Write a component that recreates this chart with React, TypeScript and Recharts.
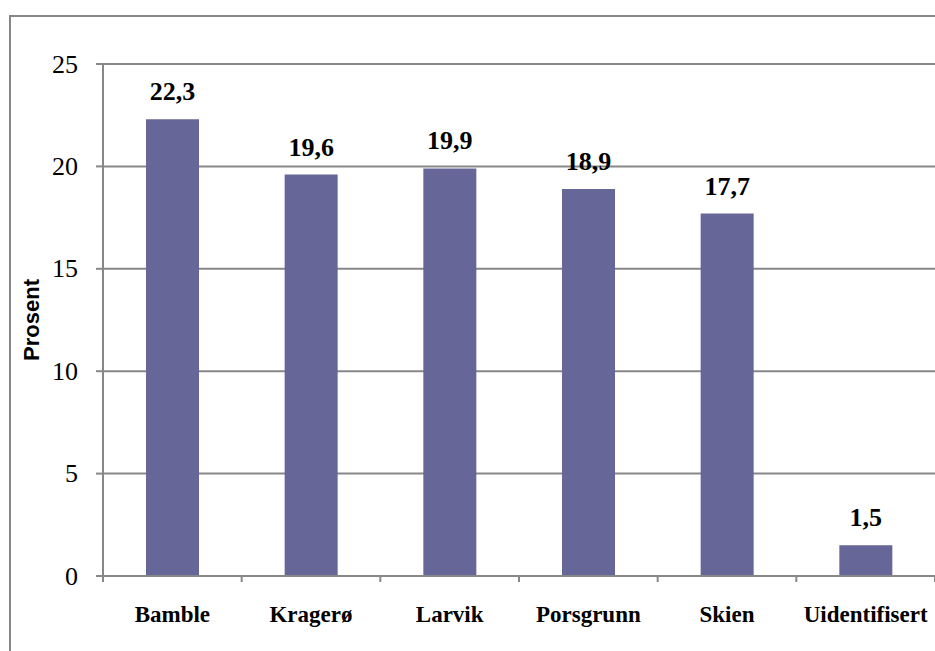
import { BarChart, Bar, XAxis, YAxis, CartesianGrid, LabelList } from "recharts";

const categories = ["Bamble", "Kragerø", "Larvik", "Porsgrunn", "Skien", "Uidentifisert"];
const values = [22.3, 19.6, 19.9, 18.9, 17.7, 1.5];
const yTicks = [0, 5, 10, 15, 20, 25];

const data = categories.map((name, i) => ({ name, value: values[i] }));

const GRAY = "#878787";
const BAR = "#666699";
const SERIF = "Liberation Serif";
const SANS = "Liberation Sans";

const formatValue = (v: number) => v.toFixed(1).replace(".", ",");

// category label plus tick marks on the band edges
const CategoryTick = (props: any) => {
  const { x, y, payload, index } = props;
  const half = payload?.offset ?? 0;
  const isLast = index === categories.length - 1;
  return (
    <g>
      <line x1={x - half} x2={x - half} y1={y - 6} y2={y} stroke={GRAY} strokeWidth={2} />
      {isLast && (
        <line x1={x + half} x2={x + half} y1={y - 6} y2={y} stroke={GRAY} strokeWidth={2} />
      )}
      <text
        x={x}
        y={y + 40}
        textAnchor="middle"
        fontFamily={SERIF}
        fontWeight="bold"
        fontSize={23}
        fill="#000"
      >
        {payload.value}
      </text>
    </g>
  );
};

const ValueTick = (props: any) => {
  const { x, y, payload } = props;
  return (
    <text
      x={x}
      y={y}
      textAnchor="end"
      dominantBaseline="central"
      fontFamily={SERIF}
      fontSize={26}
      fill="#000"
    >
      {payload.value}
    </text>
  );
};

const BarValue = (props: any) => {
  const { x, y, width, value } = props;
  return (
    <text
      x={x + width / 2}
      y={y - 19}
      textAnchor="middle"
      fontFamily={SERIF}
      fontWeight="bold"
      fontSize={26}
      fill="#000"
    >
      {formatValue(Number(value))}
    </text>
  );
};

const YLabel = ({ viewBox }: any) => {
  const cy = viewBox.y + viewBox.height / 2;
  return (
    <text
      x={31}
      y={cy}
      transform={`rotate(-90, 31, ${cy})`}
      textAnchor="middle"
      dominantBaseline="central"
      fontFamily={SANS}
      fontWeight="bold"
      fontSize={22}
      fill="#000"
    >
      Prosent
    </text>
  );
};

const App = () => {
  return (
    <div
      style={{
        position: "fixed",
        left: 0,
        top: 0,
        width: 935,
        height: 651,
        overflow: "hidden",
        background: "#fff",
      }}
    >
      {/* outer chart frame, only top and left edges are visible */}
      <div
        style={{
          position: "absolute",
          left: 9,
          top: 15,
          right: 0,
          bottom: 0,
          borderTop: `2px solid ${GRAY}`,
          borderLeft: `2px solid ${GRAY}`,
          pointerEvents: "none",
        }}
      />
      <BarChart
        width={935}
        height={651}
        data={data}
        margin={{ top: 64, right: 0, bottom: 0, left: 0 }}
        barCategoryGap={0}
      >
        <CartesianGrid vertical={false} stroke={GRAY} strokeWidth={2} />
        <XAxis
          dataKey="name"
          height={75}
          axisLine={{ stroke: GRAY, strokeWidth: 2 }}
          tickLine={false}
          tickSize={6}
          tickMargin={0}
          interval={0}
          tick={<CategoryTick />}
        />
        <YAxis
          width={103}
          domain={[0, 25]}
          ticks={yTicks}
          interval={0}
          axisLine={{ stroke: GRAY, strokeWidth: 2 }}
          tickLine={{ stroke: GRAY, strokeWidth: 2 }}
          tickSize={7}
          tickMargin={18}
          tick={<ValueTick />}
          label={<YLabel />}
        />
        <Bar dataKey="value" fill={BAR} barSize={53} isAnimationActive={false}>
          <LabelList dataKey="value" content={<BarValue />} />
        </Bar>
      </BarChart>
    </div>
  );
};

export default App;
